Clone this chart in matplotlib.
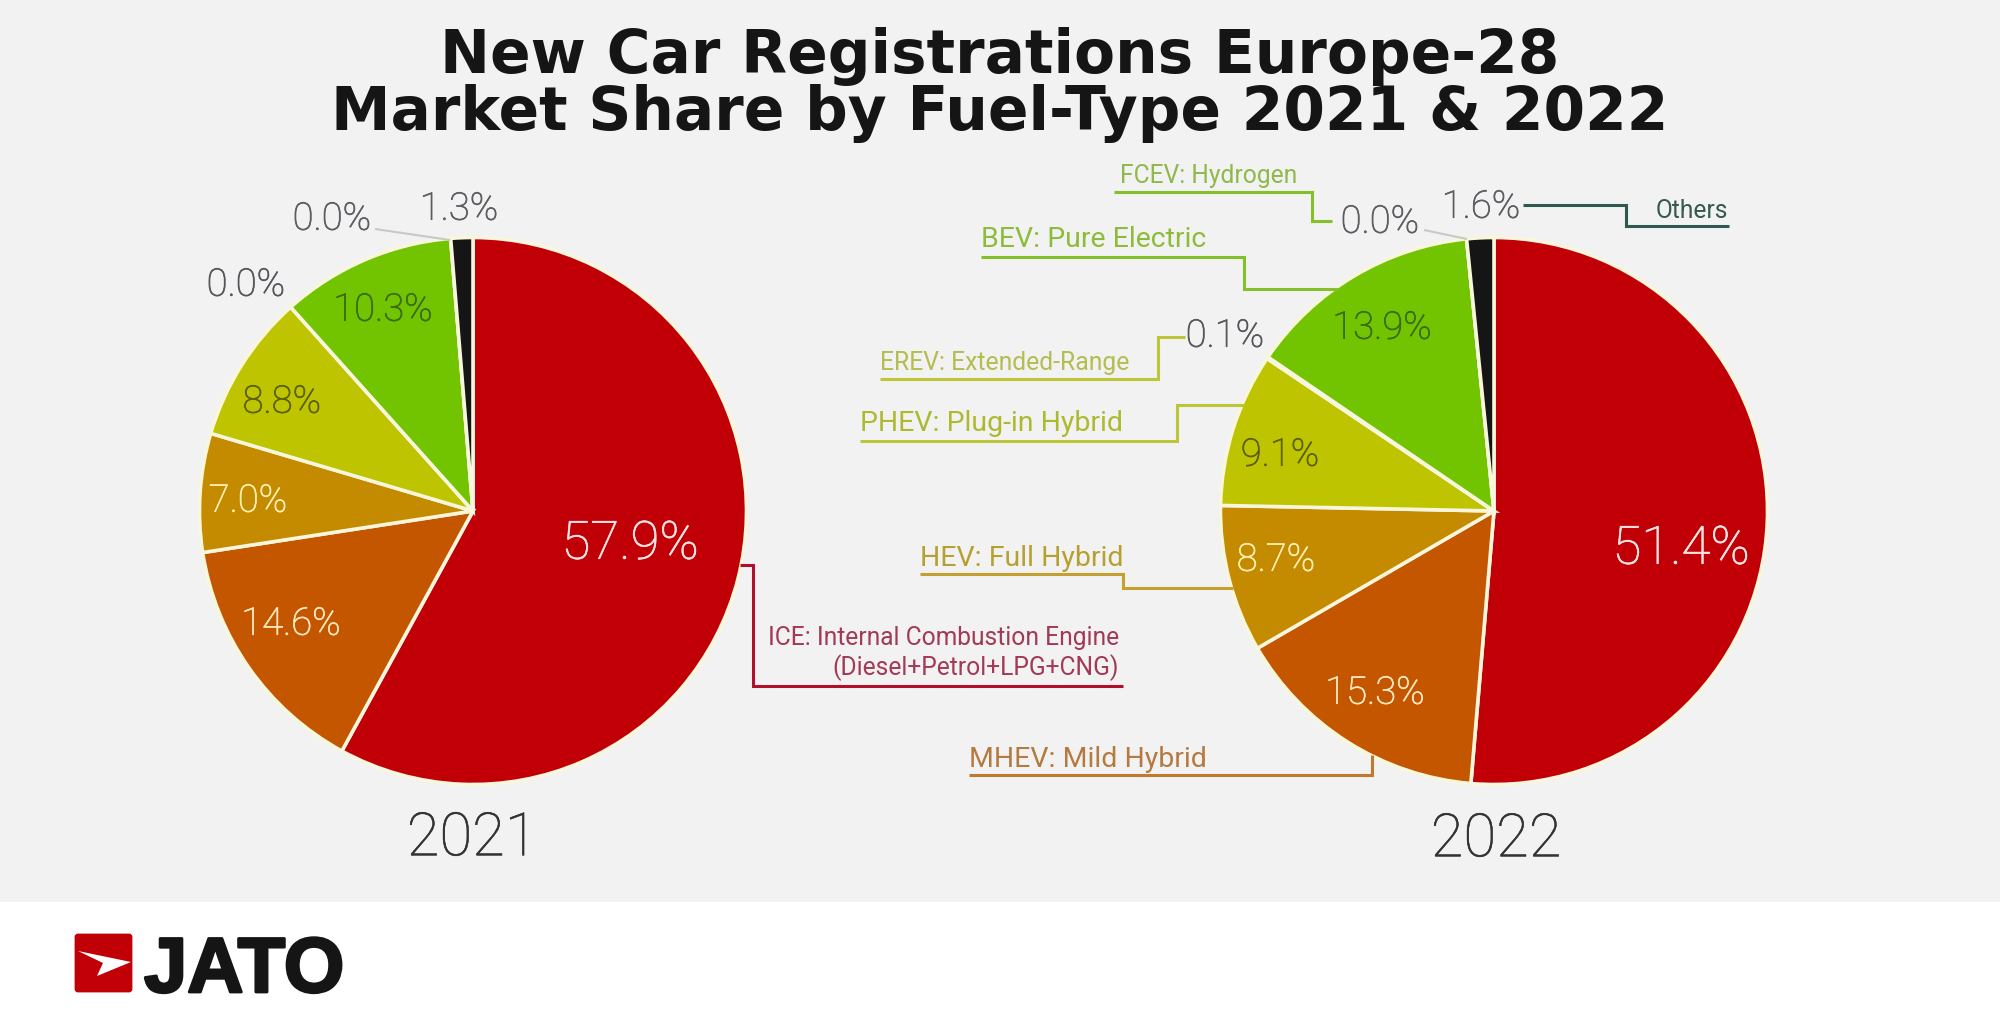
import matplotlib
matplotlib.use("Agg")
import matplotlib.pyplot as plt
import matplotlib.patheffects as pe
from matplotlib.patches import Rectangle, FancyBboxPatch, Polygon

H = 1026  # picture height, y below is counted from the top like in the image

years = ["2021", "2022"]
fuel_types = ["ICE", "MHEV", "HEV", "PHEV", "EREV", "BEV", "FCEV", "Others"]
share_2021 = [57.9, 14.6, 7.0, 8.8, 0.0, 10.3, 0.0, 1.3]
share_2022 = [51.4, 15.3, 8.7, 9.1, 0.1, 13.9, 0.0, 1.6]
fuel_colors = ["#c00006", "#c55600", "#c48a00", "#bfc400", "#bfc400", "#72c400", "#72c400", "#151515"]
pct_colors = ["#ffe4e4", "#ffe9c0", "#fff0b0", "#5c6000", "#55555c", "#3a6c12", "#5c5c62", "#5c5c62"]

fig = plt.figure(figsize=(20, 10.26), dpi=100, facecolor="white")
ax = fig.add_axes([0, 0, 1, 1])

plt.rcParams["font.family"] = ["Roboto", "DejaVu Sans"]


def txt(x, y, s, size, color, ha="left", va="baseline", thicken=0, **kw):
    kw.setdefault("fontweight", "normal")
    t = ax.text(x, H - y, s, fontsize=size, color=color, ha=ha, va=va, **kw)
    if thicken:
        t.set_path_effects([pe.withStroke(linewidth=thicken, foreground=color)])


def leader(points, color, lw=2.2):
    ax.plot([p[0] for p in points], [H - p[1] for p in points], color=color, lw=lw,
            solid_joinstyle="miter", solid_capstyle="butt", zorder=4)


# grey panel
ax.add_patch(Rectangle((0, H - 902), 2000, 902, fc="#f2f2f2", ec="none", zorder=0))

# pies
ax.pie(share_2021, colors=fuel_colors, startangle=90, counterclock=False, center=(473, H - 511),
       radius=273.5, frame=True, wedgeprops=dict(edgecolor="#f8f6dc", linewidth=2.6, zorder=2))
ax.pie(share_2022, colors=fuel_colors, startangle=90, counterclock=False, center=(1494, H - 511),
       radius=273.5, frame=True, wedgeprops=dict(edgecolor="#f8f6dc", linewidth=2.6, zorder=2))
ax.set_xlim(0, 2000)
ax.set_ylim(0, H)
ax.axis("off")

# title
title_font = dict(family="DejaVu Sans", fontweight="bold")
txt(1000, 73, "New Car Registrations Europe-28", 43, "#151515", ha="center", **title_font)
txt(1000, 130, "Market Share by Fuel-Type 2021 & 2022", 43, "#151515", ha="center", **title_font)

# percent labels
pos_2021 = [(630, 544, 38), (291, 624, 27.5), (248, 501, 27.5), (282, 402, 27.5),
            (246, 285, 27.5), (383, 310, 27.5), (332, 219, 27.5), (459, 209, 27.5)]
pos_2022 = [(1681, 549, 38), (1375, 693, 27.5), (1276, 560, 27.5), (1280, 455, 27.5),
            (1225, 336, 27.5), (1382, 328, 27.5), (1380, 222, 27.5), (1481, 207, 27.5)]
for values, positions in [(share_2021, pos_2021), (share_2022, pos_2022)]:
    for v, col, (x, y, size) in zip(values, pct_colors, positions):
        txt(x, y, f"{v:.1f}%", size, col, ha="center", va="center", fontweight="light", thicken=0.5)

# years
txt(472, 839, years[0], 43, "#333333", ha="center", va="center", fontweight="light", thicken=0.4)
txt(1496, 840, years[1], 43, "#333333", ha="center", va="center", fontweight="light", thicken=0.4)

# 0.0% hairlines
leader([(375, 229), (450, 240)], "#c8c8c8", 1.5)
leader([(1424, 230), (1467, 239)], "#c8c8c8", 1.5)

# callouts
leader([(740, 565), (753, 565), (753, 686), (1123, 686)], "#b0102c")
txt(1119, 645, "ICE: Internal Combustion Engine", 17.7, "#a33a55", ha="right")
txt(1119, 675, "(Diesel+Petrol+LPG+CNG)", 17.7, "#a33a55", ha="right")

leader([(969, 775), (1372, 775), (1372, 755)], "#c07a30")
txt(969, 767, "MHEV: Mild Hybrid", 20.5, "#b47a40")

leader([(920, 574), (1123, 574), (1123, 588), (1233, 588)], "#c4a030")
txt(920, 566, "HEV: Full Hybrid", 20.5, "#b5a030")

leader([(860, 441), (1177, 441), (1177, 405), (1244, 405)], "#bcc636")
txt(860, 431, "PHEV: Plug-in Hybrid", 20.5, "#adba30")

leader([(880, 379), (1158, 379), (1158, 337), (1185, 337)], "#bcc636")
txt(880, 370, "EREV: Extended-Range", 17.8, "#b4bd50")

leader([(981, 257), (1244, 257), (1244, 289), (1338, 289)], "#84c02a")
txt(981, 247, "BEV: Pure Electric", 20.5, "#8dbb3a")

leader([(1114, 192), (1312, 192), (1312, 221), (1332, 221)], "#84c02a")
txt(1120, 183, "FCEV: Hydrogen", 17.7, "#90b84a")

leader([(1523, 205), (1626, 205), (1626, 226), (1729, 226)], "#2c5a50")
txt(1728, 218, "Others", 17.7, "#35584f", ha="right")

# logo
ax.add_patch(FancyBboxPatch((76, H - 991), 55, 56, boxstyle="round,pad=0,rounding_size=2",
                            fc="#c00006", ec="#c00006", lw=2, zorder=3))
ax.add_patch(Polygon([(78, H - 951), (131, H - 962), (97, H - 976), (103, H - 963)],
                     closed=True, fc="white", ec="none", zorder=4))
txt(144, 992, "JATO", 56, "#151515", family="Liberation Sans", fontweight="bold", thicken=2)

fig.savefig("out.png", dpi=100, facecolor="white")
